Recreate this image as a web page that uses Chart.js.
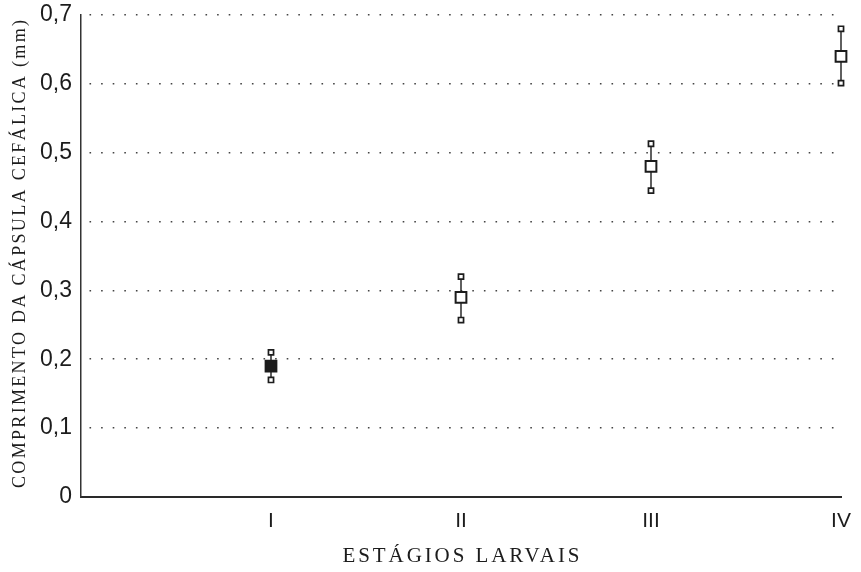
<!DOCTYPE html>
<html>
<head>
<meta charset="utf-8">
<script src="https://cdn.jsdelivr.net/npm/chart.js@4/dist/chart.umd.min.js"></script>
<style>
  html, body { margin: 0; padding: 0; background: #fff; }
  canvas { display: block; }
</style>
</head>
<body>
<canvas id="c" width="861" height="572"></canvas>
<script>
// ---- data ----
const stageLabels = ['I', 'II', 'III', 'IV'];
const stagePositions = [1, 2, 3, 4];
const meanValues = [0.19, 0.29, 0.48, 0.64];
const lowValues = [0.17, 0.257, 0.445, 0.601];
const highValues = [0.21, 0.32, 0.513, 0.68];
const xTitle = 'ESTÁGIOS LARVAIS';
const yTitle = 'COMPRIMENTO DA CÁPSULA CEFÁLICA (mm)';

const INK = '#1c1c1c';

const meanData = stagePositions.map((x, i) => ({ x: x, y: meanValues[i] }));
const whiskerSets = stagePositions.map((x, i) => ({
  type: 'scatter',
  showLine: true,
  data: [{ x: x, y: lowValues[i] }, { x: x, y: highValues[i] }],
  borderColor: INK,
  borderWidth: 1.4,
  pointStyle: 'rect',
  pointRadius: 3.6,
  pointBorderWidth: 1.7,
  pointBorderColor: INK,
  pointBackgroundColor: '#fff',
  clip: false
}));

const titlePlugin = {
  id: 'axisTitles',
  afterDraw(chart) {
    const ctx = chart.ctx;
    function fitted(text, font, target) {
      ctx.font = font;
      ctx.letterSpacing = '0px';
      const w = ctx.measureText(text).width;
      return Math.max(0, (target - w) / (text.length - 1));
    }
    ctx.save();
    ctx.fillStyle = INK;
    ctx.textAlign = 'center';
    ctx.textBaseline = 'middle';
    // x title
    let font = '21px "Liberation Serif", "DejaVu Serif", serif';
    let sp = fitted(xTitle, font, 237);
    ctx.font = font;
    ctx.letterSpacing = sp + 'px';
    ctx.fillText(xTitle, 461 + sp / 2, 556);
    // y title
    font = '18px "Liberation Serif", "DejaVu Serif", serif';
    sp = fitted(yTitle, font, 468);
    ctx.font = font;
    ctx.letterSpacing = sp + 'px';
    ctx.translate(20, 254);
    ctx.rotate(-Math.PI / 2);
    ctx.fillText(yTitle, sp / 2, 0);
    ctx.restore();
  }
};

new Chart(document.getElementById('c'), {
  type: 'scatter',
  data: {
    datasets: [
      {
        data: meanData,
        pointStyle: 'rect',
        pointRadius: 7.6,
        pointBorderWidth: 2,
        pointBorderColor: INK,
        pointBackgroundColor: meanValues.map((v, i) => i === 0 ? INK : '#fff'),
        showLine: false,
        clip: false
      },
      ...whiskerSets
    ]
  },
  options: {
    responsive: false,
    animation: false,
    devicePixelRatio: 1,
    layout: { padding: { left: 0, right: 20, top: 15, bottom: 0 } },
    plugins: { legend: { display: false }, tooltip: { enabled: false } },
    scales: {
      x: {
        type: 'linear',
        min: 0,
        max: 4,
        afterFit(scale) {
          scale.height = 75;
          scale.paddingLeft = 0;
          scale.paddingRight = 0;
        },
        afterBuildTicks(scale) {
          scale.ticks = [0, ...stagePositions].map(v => ({ value: v }));
        },
        ticks: {
          callback: v => {
            const i = stagePositions.indexOf(v);
            return i >= 0 ? stageLabels[i] : '';
          },
          font: { family: '"Liberation Sans", Arial, sans-serif', size: 21 },
          color: INK,
          padding: 12,
          maxRotation: 0
        },
        grid: { display: false, drawTicks: false },
        border: { display: true, color: '#2a2a2a', width: 2 }
      },
      y: {
        min: 0,
        max: 0.7,
        afterFit(scale) {
          scale.width = 81;
          scale.paddingTop = 0;
          scale.paddingBottom = 0;
        },
        ticks: {
          stepSize: 0.1,
          callback: v => v === 0 ? '0' : v.toFixed(1).replace('.', ','),
          font: { family: '"Liberation Sans", Arial, sans-serif', size: 23 },
          color: INK,
          padding: 9
        },
        grid: {
          drawTicks: false,
          color: c => (c.tick && c.tick.value === 0) ? 'rgba(0,0,0,0)' : '#444',
          lineWidth: 1.6
        },
        border: { display: true, color: '#333', width: 1.5, dash: [1.6, 10], dashOffset: -8 }
      }
    }
  },
  plugins: [titlePlugin]
});
</script>
</body>
</html>
